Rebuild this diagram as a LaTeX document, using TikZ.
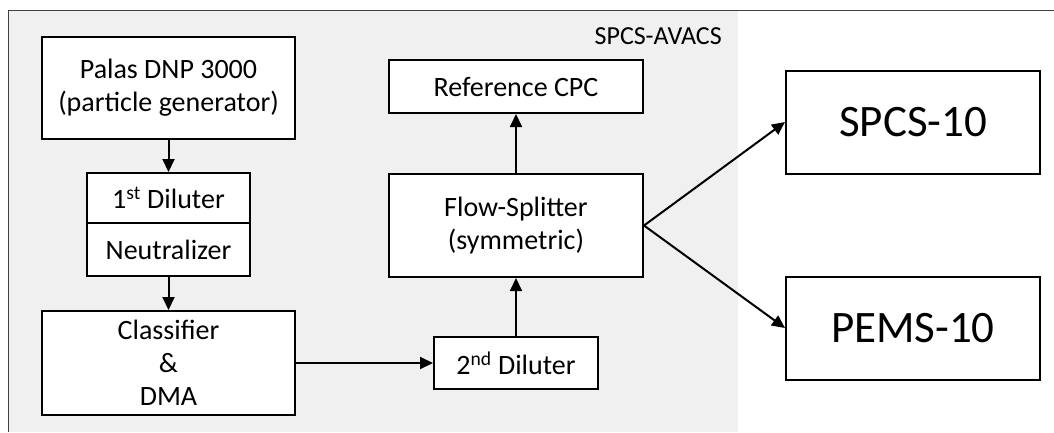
\documentclass[tikz,border=0pt]{standalone}
\usepackage{fontspec}
\setmainfont{Carlito}
\usetikzlibrary{arrows.meta,positioning}

\begin{document}
\begin{tikzpicture}[x=1pt,y=-1pt,>={Triangle[length=13pt,width=12pt]},
  blk/.style={draw,line width=2pt,fill=white,inner sep=0pt,align=center,font=\fontsize{28}{33}\selectfont},
  bigblk/.style={blk,minimum width=254pt,minimum height=103pt,font=\fontsize{45}{50}\selectfont},
  flow/.style={->,line width=2pt}]
  \useasboundingbox (0,0) rectangle (1054,432);
  % background of the SPCS-AVACS part
  \fill[black!6] (9,11) rectangle (738,432);
  \draw[line width=1.5pt,black!75] (8.5,432) -- (8.5,10.5) -- (1054,10.5);
  \node[anchor=east,inner sep=0pt,font=\fontsize{26}{30}\selectfont] (avacs) at (722,36) {SPCS-AVACS};
  % left column
  \node[blk,minimum width=253pt,minimum height=102pt] (palas) at (168.5,88) {Palas DNP 3000\\(particle generator)};
  \node[blk,minimum width=163pt,minimum height=50pt] (dil1) at (168.5,198) {1\textsuperscript{st} Diluter};
  \node[blk,minimum width=163pt,minimum height=53pt] (neut) at (168.5,249.5) {Neutralizer};
  \node[blk,minimum width=253pt,minimum height=104pt] (class) at (168.5,363) {Classifier\\\&\\DMA};
  % middle column
  \node[blk,minimum width=164pt,minimum height=52pt] (dil2) at (516,363) {2\textsuperscript{nd} Diluter};
  \node[blk,minimum width=254pt,minimum height=103pt] (split) at (516,225.5) {Flow-Splitter\\(symmetric)};
  \node[blk,minimum width=254pt,minimum height=53pt] (ref) at (516,86.5) {Reference CPC};
  % instruments
  \node[bigblk] (spcs) at (913,122) {SPCS-10};
  \node[bigblk] (pems) at (913,328) {PEMS-10};
  % connections
  \draw[flow] (palas) -- (dil1);
  \draw[flow] (neut) -- (class);
  \draw[flow] (class) -- (dil2);
  \draw[flow] (dil2) -- (split);
  \draw[flow] (split) -- (ref);
  \draw[flow] (split.east) -- (spcs.west);
  \draw[flow] (split.east) -- (pems.west);
\end{tikzpicture}
\end{document}
